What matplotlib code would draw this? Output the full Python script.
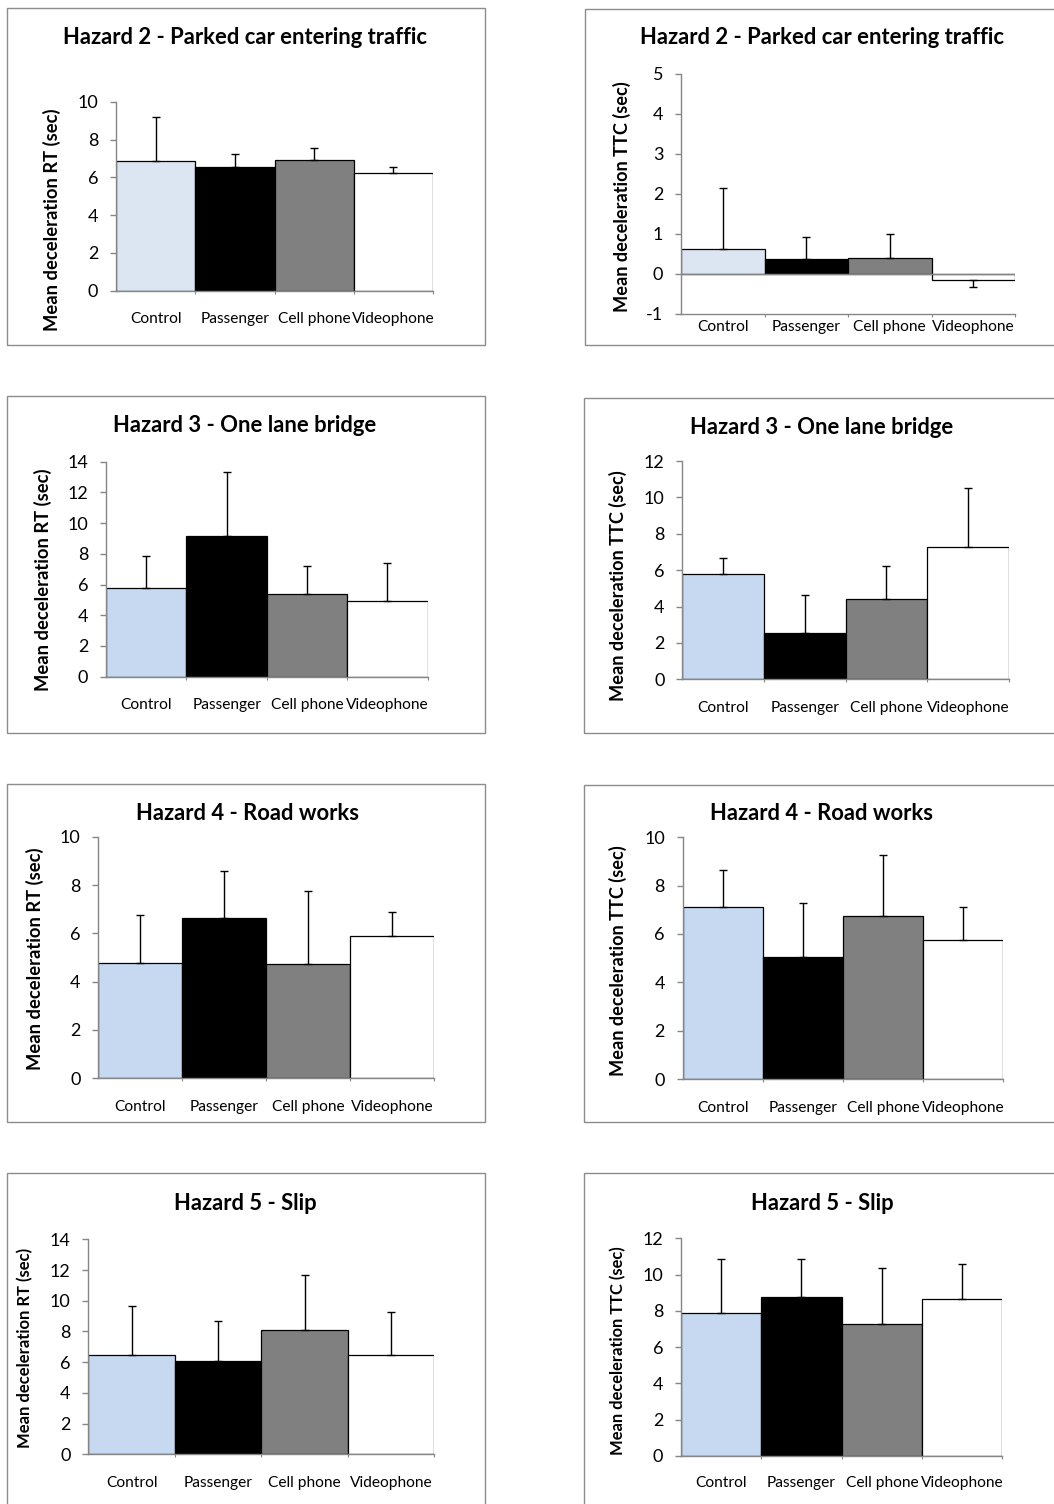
import matplotlib
matplotlib.use("Agg")
import matplotlib.pyplot as plt
from matplotlib.patches import Rectangle

plt.rcParams['font.family'] = ['Lato', 'DejaVu Sans']
plt.rcParams['axes.unicode_minus'] = False

W, H, DPI = 1054, 1504, 100

conditions = ["Control", "Passenger", "Cell phone", "Videophone"]

# Hazard 2 - Parked car entering traffic
h2_rt_mean = [6.85, 6.55, 6.91, 6.23]
h2_rt_sd = [2.35, 0.68, 0.66, 0.32]
h2_ttc_mean = [0.63, 0.38, 0.41, -0.15]
h2_ttc_sd = [1.51, 0.55, 0.58, 0.18]

# Hazard 3 - One lane bridge
h3_rt_mean = [5.77, 9.18, 5.38, 4.93]
h3_rt_sd = [2.07, 4.17, 1.85, 2.49]
h3_ttc_mean = [5.80, 2.55, 4.41, 7.27]
h3_ttc_sd = [0.89, 2.10, 1.80, 3.25]

# Hazard 4 - Road works
h4_rt_mean = [4.78, 6.65, 4.73, 5.90]
h4_rt_sd = [1.98, 1.94, 3.02, 0.99]
h4_ttc_mean = [7.12, 5.05, 6.74, 5.76]
h4_ttc_sd = [1.53, 2.22, 2.53, 1.36]

# Hazard 5 - Slip
h5_rt_mean = [6.45, 6.10, 8.09, 6.45]
h5_rt_sd = [3.23, 2.60, 3.60, 2.84]
h5_ttc_mean = [7.88, 8.75, 7.28, 8.64]
h5_ttc_sd = [2.98, 2.11, 3.08, 1.94]

RT_LABEL = "Mean deceleration RT (sec)"
TTC_LABEL = "Mean deceleration TTC (sec)"

AXIS_GREY = "#868686"
FRAME_GREY = "#8c8c8c"

panels = [
    dict(title="Hazard 2 - Parked car entering traffic", ylabel=RT_LABEL,
         mean=h2_rt_mean, sd=h2_rt_sd, ylim=(0, 10), step=2,
         frame=(7, 8, 485, 345), plot=(116, 101.7, 433, 290.7),
         title_xy=(245, 37), ylabel_xy=(52, 220), lab_off=28.3,
         ctrl="#dce6f2", ysize=13.2),
    dict(title="Hazard 2 - Parked car entering traffic", ylabel=TTC_LABEL,
         mean=h2_ttc_mean, sd=h2_ttc_sd, ylim=(-1, 5), step=1,
         frame=(585, 9, 1064, 345), plot=(681, 74, 1015, 314),
         title_xy=(822, 38), ylabel_xy=(622, 197), lab_off=13,
         ctrl="#dce6f2", ysize=13.1),
    dict(title="Hazard 3 - One lane bridge", ylabel=RT_LABEL,
         mean=h3_rt_mean, sd=h3_rt_sd, ylim=(0, 14), step=2,
         frame=(7, 396, 485, 733), plot=(106, 461.7, 427.7, 676.7),
         title_xy=(245, 425), ylabel_xy=(43, 580), lab_off=28.3,
         ctrl="#c6d9f1", ysize=13.2),
    dict(title="Hazard 3 - One lane bridge", ylabel=TTC_LABEL,
         mean=h3_ttc_mean, sd=h3_ttc_sd, ylim=(0, 12), step=2,
         frame=(584, 398, 1064, 733), plot=(682.3, 461, 1009, 679.3),
         title_xy=(822, 427), ylabel_xy=(618, 586), lab_off=28.7,
         ctrl="#c6d9f1", ysize=13.1),
    dict(title="Hazard 4 - Road works", ylabel=RT_LABEL,
         mean=h4_rt_mean, sd=h4_rt_sd, ylim=(0, 10), step=2,
         frame=(7, 784, 485, 1122), plot=(98.3, 836.7, 434.3, 1078.3),
         title_xy=(247, 813), ylabel_xy=(35, 959), lab_off=28.4,
         ctrl="#c6d9f1", ysize=13.2),
    dict(title="Hazard 4 - Road works", ylabel=TTC_LABEL,
         mean=h4_ttc_mean, sd=h4_ttc_sd, ylim=(0, 10), step=2,
         frame=(584, 785, 1064, 1122), plot=(682.7, 837.3, 1003.3, 1079),
         title_xy=(822, 814), ylabel_xy=(618, 961), lab_off=29.3,
         ctrl="#c6d9f1", ysize=13.1),
    dict(title="Hazard 5 - Slip", ylabel=RT_LABEL,
         mean=h5_rt_mean, sd=h5_rt_sd, ylim=(0, 14), step=2,
         frame=(7, 1173, 485, 1520), plot=(88.3, 1239.3, 434.3, 1454.3),
         title_xy=(245, 1203), ylabel_xy=(25, 1348), lab_off=29,
         ctrl="#c6d9f1", ysize=12.0),
    dict(title="Hazard 5 - Slip", ylabel=TTC_LABEL,
         mean=h5_ttc_mean, sd=h5_ttc_sd, ylim=(0, 12), step=2,
         frame=(584, 1173, 1064, 1520), plot=(681, 1238.3, 1002.3, 1456),
         title_xy=(822, 1203), ylabel_xy=(618, 1351), lab_off=27.3,
         ctrl="#c6d9f1", ysize=11.9),
]

fig = plt.figure(figsize=(W / DPI, H / DPI), dpi=DPI)
fig.patch.set_facecolor("white")


def fx(px):
    return px / W


def fy(py):
    return 1 - py / H


for p in panels:
    # grey chart-area border
    x0, y0, x1, y1 = p["frame"]
    fig.add_artist(Rectangle((fx(x0), fy(y1)), (x1 - x0) / W, (y1 - y0) / H,
                             transform=fig.transFigure, fill=False,
                             edgecolor=FRAME_GREY, linewidth=1.0))

    px0, py0, px1, py1 = p["plot"]
    ax = fig.add_axes([fx(px0), fy(py1), (px1 - px0) / W, (py1 - py0) / H])
    ax.set_facecolor("none")

    x = list(range(len(conditions)))
    colors = [p["ctrl"], "#000000", "#808080", "#ffffff"]
    ax.bar(x, p["mean"], width=1.0, color=colors, edgecolor="black",
           linewidth=0.9, zorder=2)

    lower = [s if m < 0 else 0 for m, s in zip(p["mean"], p["sd"])]
    upper = [0 if m < 0 else s for m, s in zip(p["mean"], p["sd"])]
    ax.errorbar(x, p["mean"], yerr=[lower, upper], fmt="none",
                ecolor="black", elinewidth=1.0, capsize=3.2, capthick=1.0,
                zorder=3)

    lo, hi = p["ylim"]
    ax.set_ylim(lo, hi)
    ax.set_xlim(-0.5, len(conditions) - 0.5)
    ax.set_yticks(list(range(lo, hi + 1, p["step"])))
    if lo < 0:
        ax.axhline(0, color=AXIS_GREY, linewidth=1.0, zorder=2.5)

    for side in ("top", "right"):
        ax.spines[side].set_visible(False)
    for side in ("left", "bottom"):
        ax.spines[side].set_color(AXIS_GREY)
        ax.spines[side].set_linewidth(1.0)

    ax.tick_params(axis="y", direction="out", length=4.3, width=1.0,
                   color=AXIS_GREY, labelsize=13, pad=8.5)
    ax.set_xticks(x)
    ax.set_xticklabels(conditions)
    ax.set_xticks([i + 0.5 for i in x], minor=True)
    ax.tick_params(axis="x", which="major", length=0, labelsize=11.2,
                   pad=p["lab_off"] * 0.72)
    ax.tick_params(axis="x", which="minor", direction="out", length=2.2,
                   width=0.8, color=AXIS_GREY)
    for lbl in ax.get_xticklabels():
        lbl.set_va("center")

    tx, ty = p["title_xy"]
    fig.text(fx(tx), fy(ty), p["title"], ha="center", va="center",
             fontsize=15.8, fontweight="bold")
    lx, ly = p["ylabel_xy"]
    fig.text(fx(lx), fy(ly), p["ylabel"], ha="center", va="center",
             rotation=90, fontsize=p["ysize"], fontweight="bold")

fig.savefig("out.png", dpi=DPI, facecolor="white")
